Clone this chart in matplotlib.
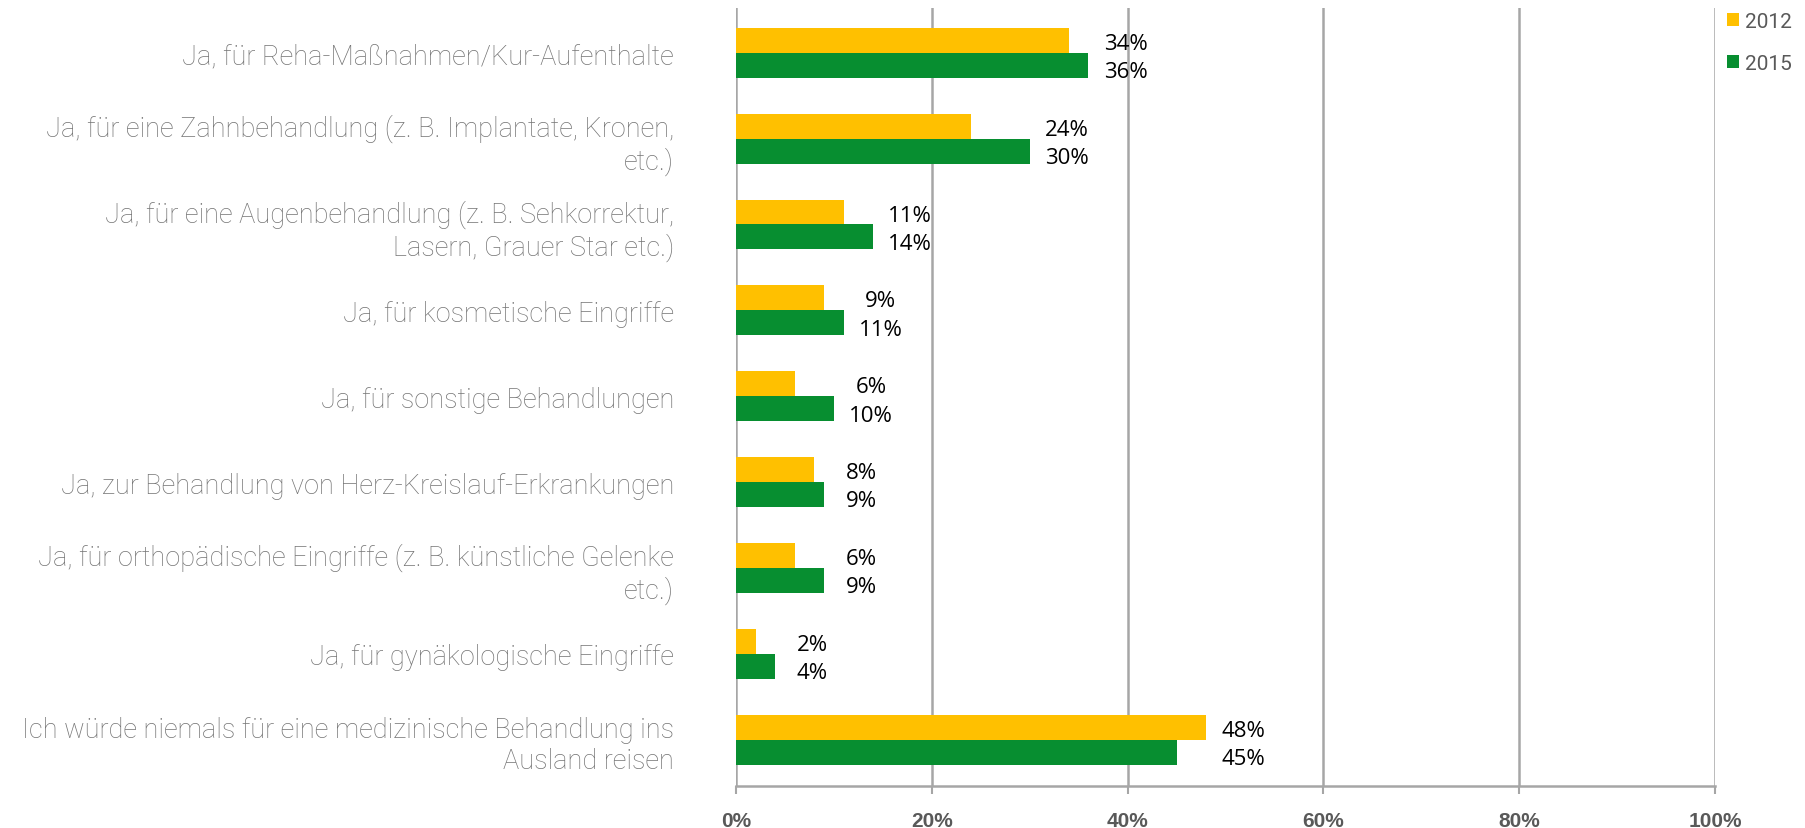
import matplotlib
matplotlib.use("Agg")
import matplotlib.pyplot as plt
from matplotlib.patches import Patch
import numpy as np

categories = [
    "Ja, für Reha-Maßnahmen/Kur-Aufenthalte",
    "Ja, für eine Zahnbehandlung (z. B. Implantate, Kronen,\netc.)",
    "Ja, für eine Augenbehandlung (z. B. Sehkorrektur,\nLasern, Grauer Star etc.)",
    "Ja, für kosmetische Eingriffe",
    "Ja, für sonstige Behandlungen",
    "Ja, zur Behandlung von Herz-Kreislauf-Erkrankungen",
    "Ja, für orthopädische Eingriffe (z. B. künstliche Gelenke\netc.)",
    "Ja, für gynäkologische Eingriffe",
    "Ich würde niemals für eine medizinische Behandlung ins\nAusland reisen",
]
values_2012 = [34, 24, 11, 9, 6, 8, 6, 2, 48]
values_2015 = [36, 30, 14, 11, 10, 9, 9, 4, 45]
series_names = ["2012", "2015"]
x_ticks = [0, 20, 40, 60, 80, 100]
x_tick_labels = ["0%", "20%", "40%", "60%", "80%", "100%"]

YELLOW = "#FFC000"
GREEN = "#078E30"
GRID = "#A6A6A6"

fig = plt.figure(figsize=(18.06, 8.29), dpi=100)
ax = fig.add_axes([0.4075, 0.0507, 0.5421, 0.9383])

y = np.arange(len(categories))
h = 0.29
ax.barh(y - h / 2, values_2012, height=h, color=YELLOW, zorder=3)
ax.barh(y + h / 2, values_2015, height=h, color=GREEN, zorder=3)

for i, (a, b) in enumerate(zip(values_2012, values_2015)):
    xc = max(a, b) + 3.8
    ax.text(xc, i - h / 2 + 0.035, f"{a}%", ha="center", va="center", fontsize=16,
            family=["Open Sans", "DejaVu Sans"], color="black")
    ax.text(xc, i + h / 2 + 0.075, f"{b}%", ha="center", va="center", fontsize=16,
            family=["Open Sans", "DejaVu Sans"], color="black")

ax.set_xlim(0, 100)
ax.set_ylim(8.54, -0.52)
ax.set_yticks(y)
ax.set_yticklabels(categories, fontsize=19.5, color="#747474",
                   family=["Roboto", "DejaVu Sans"], fontweight="light",
                   linespacing=1.22)
ax.set_xticks(x_ticks)
ax.set_xticklabels(x_tick_labels, fontsize=15, fontweight="bold", color="#595959",
                   family=["Liberation Sans Narrow", "Liberation Sans", "DejaVu Sans"])
ax.tick_params(axis="y", length=0, pad=62 * 72 / 100)
ax.tick_params(axis="x", length=6, width=1.5, color=GRID, pad=12)

ax.grid(axis="x", color=GRID, linewidth=1.8, zorder=0)
for s in ["top", "right", "left"]:
    ax.spines[s].set_visible(False)
ax.spines["bottom"].set_color(GRID)
ax.spines["bottom"].set_linewidth(1.8)

handles = [Patch(facecolor=YELLOW, edgecolor="none"), Patch(facecolor=GREEN, edgecolor="none")]
leg = fig.legend(handles, series_names, loc="upper left", bbox_to_anchor=(0.946, 1.007),
                 frameon=False, handlelength=0.55, handleheight=0.55, handletextpad=0.3,
                 labelspacing=1.1, prop={"family": ["Roboto", "DejaVu Sans"], "size": 15})
for t in leg.get_texts():
    t.set_color("#595959")

fig.savefig("out.png", dpi=100)
